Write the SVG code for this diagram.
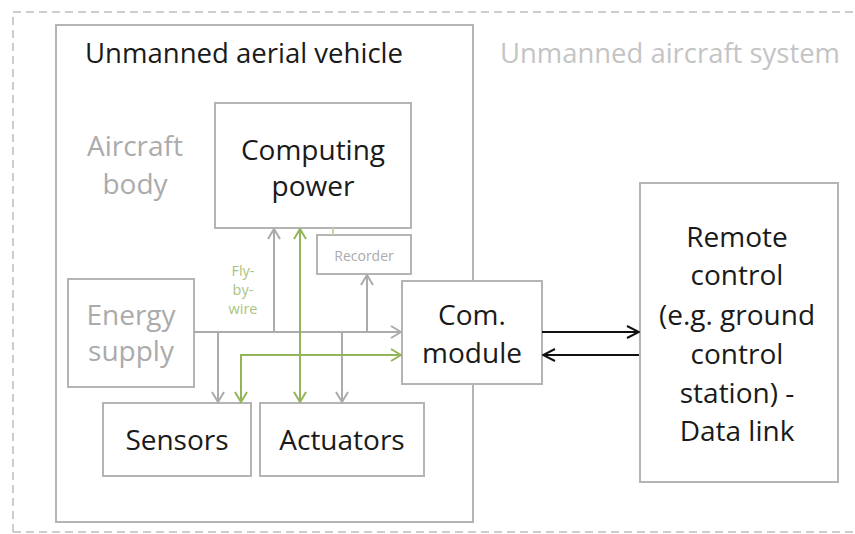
<svg xmlns="http://www.w3.org/2000/svg" width="855" height="534" viewBox="0 0 855 534">
<style>
.box{fill:#fff;stroke:#b4b4b4;stroke-width:2}
.t{font-family:"Open Sans","Noto Sans",sans-serif;font-size:28px;text-anchor:middle;fill:#1a1a1a}
.g{fill:#ababab}
.fw{font-size:14.5px;fill:#a9c47f}
.gl{stroke:#ababab;stroke-width:2;fill:none}
.gr{stroke:#94b459;stroke-width:2;fill:none}
.bl{stroke:#111;stroke-width:2;fill:none}
</style>
<defs>
<marker id="ag" viewBox="0 0 12 14" refX="11" refY="7" markerWidth="12" markerHeight="14" markerUnits="userSpaceOnUse" orient="auto-start-reverse"><path d="M1,1 L11,7 L1,13" fill="none" stroke="#ababab" stroke-width="2"/></marker>
<marker id="agr" viewBox="0 0 12 14" refX="11" refY="7" markerWidth="12" markerHeight="14" markerUnits="userSpaceOnUse" orient="auto-start-reverse"><path d="M1,1 L11,7 L1,13" fill="none" stroke="#94b459" stroke-width="2"/></marker>
<marker id="ab" viewBox="0 0 14 14" refX="13" refY="7" markerWidth="14" markerHeight="14" markerUnits="userSpaceOnUse" orient="auto-start-reverse"><path d="M1,1 L13,7 L1,13" fill="none" stroke="#111" stroke-width="2"/></marker>
</defs>
<rect width="855" height="534" fill="#fff"/>
<g id="uas">
<path d="M13,532 L13,12 L860,12 M13,532 L860,532" fill="none" stroke="#bdbdbd" stroke-width="1.5" stroke-dasharray="8,5"/>
<text x="670" y="63" class="t" style="fill:#c4c4c4" textLength="340" lengthAdjust="spacingAndGlyphs">Unmanned aircraft system</text>
</g>
<g id="uav">
<rect x="56" y="25" width="417" height="497" class="box"/>
<text x="244" y="63" class="t" textLength="318" lengthAdjust="spacingAndGlyphs">Unmanned aerial vehicle</text>
<text x="135" y="156" class="t g">Aircraft</text>
<text x="135" y="194" class="t g">body</text>
</g>
<g id="computing">
<rect x="215" y="103" width="196" height="125" class="box"/>
<text x="313" y="160" class="t">Computing</text>
<text x="313" y="196" class="t">power</text>
</g>
<g id="recorder">
<rect x="317" y="235" width="94" height="39" class="box"/>
<text x="364" y="261" class="t g" style="font-size:14px">Recorder</text>
</g>
<g id="energy">
<rect x="68" y="279" width="126" height="108" class="box"/>
<text x="131" y="325" class="t g">Energy</text>
<text x="131" y="361" class="t g">supply</text>
</g>
<g id="sensors">
<rect x="103" y="403" width="148" height="73" class="box"/>
<text x="177" y="450" class="t">Sensors</text>
</g>
<g id="actuators">
<rect x="260" y="403" width="164" height="73" class="box"/>
<text x="342" y="450" class="t">Actuators</text>
</g>
<g id="com">
<rect x="402" y="281" width="140" height="103" class="box"/>
<text x="472" y="325" class="t">Com.</text>
<text x="472" y="363" class="t">module</text>
</g>
<g id="remote">
<rect x="640" y="183" width="198" height="299" class="box"/>
<text x="737" y="247" class="t">Remote</text>
<text x="737" y="285" class="t">control</text>
<text x="737" y="325" class="t">(e.g. ground</text>
<text x="737" y="364" class="t">control</text>
<text x="737" y="403" class="t">station) -</text>
<text x="737" y="441" class="t">Data link</text>
</g>
<g id="connectors">
<line x1="194" y1="332" x2="401" y2="332" class="gl" marker-end="url(#ag)"/>
<line x1="274" y1="332" x2="274" y2="229" class="gl" marker-end="url(#ag)"/>
<line x1="367" y1="332" x2="367" y2="275" class="gl" marker-end="url(#ag)"/>
<line x1="218" y1="332" x2="218" y2="402" class="gl" marker-end="url(#ag)"/>
<line x1="342" y1="332" x2="342" y2="402" class="gl" marker-end="url(#ag)"/>
<line x1="333" y1="228" x2="333" y2="235" stroke="#c8d49a" stroke-width="2"/>
<line x1="300" y1="229" x2="300" y2="402" class="gr" marker-start="url(#agr)" marker-end="url(#agr)"/>
<polyline points="241,402 241,355 401,355" class="gr" marker-start="url(#agr)" marker-end="url(#agr)"/>
<text x="243" y="276" class="t fw">Fly-</text>
<text x="243" y="295" class="t fw">by-</text>
<text x="243" y="314" class="t fw">wire</text>
<line x1="542" y1="332" x2="639" y2="332" class="bl" marker-end="url(#ab)"/>
<line x1="639" y1="355" x2="543" y2="355" class="bl" marker-end="url(#ab)"/>
</g>
</svg>
